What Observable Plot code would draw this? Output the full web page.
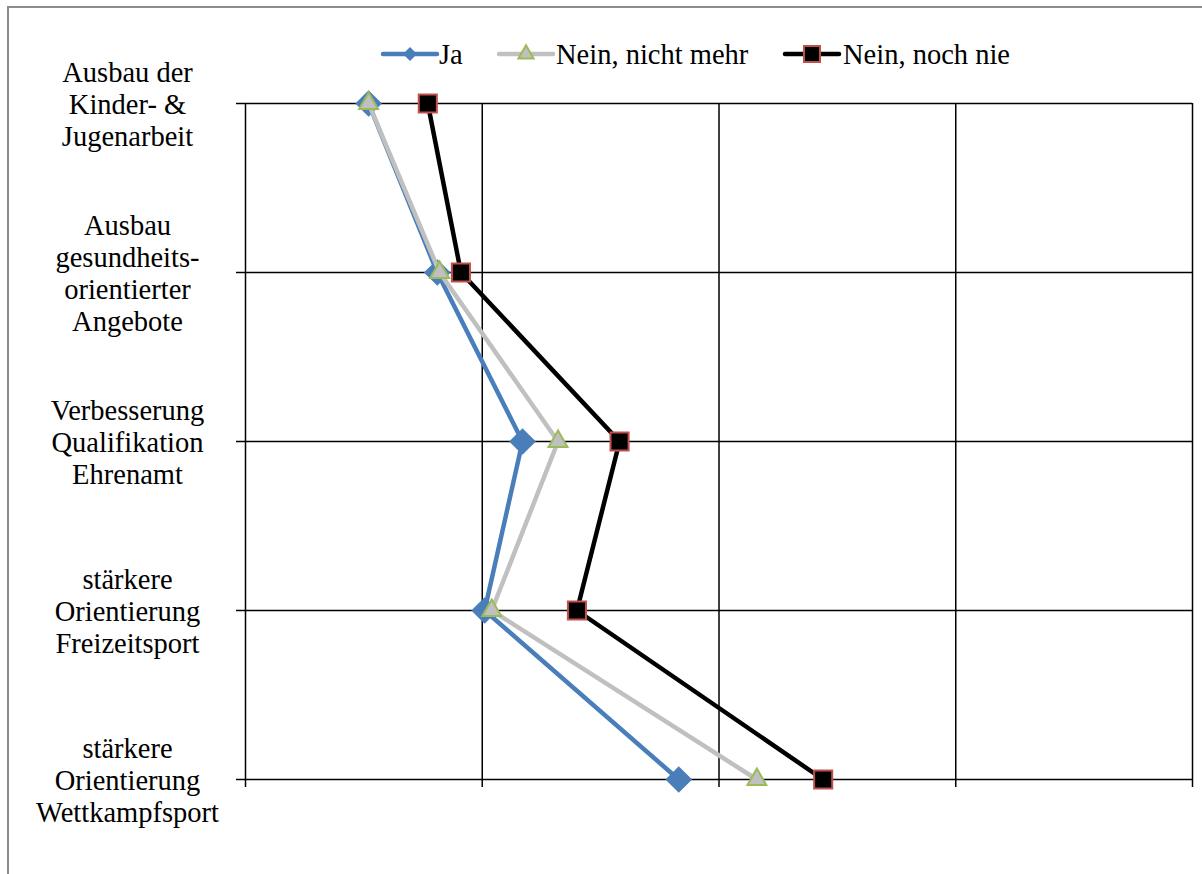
<!DOCTYPE html>
<html>
<head>
<meta charset="utf-8">
<script src="https://cdn.jsdelivr.net/npm/d3@7"></script>
<script src="https://cdn.jsdelivr.net/npm/@observablehq/plot@0.6"></script>
<style>
  html, body { margin: 0; padding: 0; background: #fff; }
  #wrap { position: relative; width: 1202px; height: 874px; overflow: hidden; }
  #border { position: absolute; left: 7px; top: 6px; width: 1300px; height: 1000px;
            border-top: 2px solid #8c8c8c; border-left: 2px solid #8c8c8c; }
  #chart { position: absolute; left: 0; top: 0; }
</style>
</head>
<body>
<div id="wrap"><div id="border"></div><div id="chart"></div></div>
<script>
const categories = [
  "Ausbau der\nKinder- &\nJugenarbeit",
  "Ausbau\ngesundheits-\norientierter\nAngebote",
  "Verbesserung\nQualifikation\nEhrenamt",
  "stärkere\nOrientierung\nFreizeitsport",
  "stärkere\nOrientierung\nWettkampfsport"
];
const seriesNames = ["Ja", "Nein, nicht mehr", "Nein, noch nie"];
const ja            = [1.52, 1.81, 2.17, 2.01, 2.83];
const neinNichtMehr = [1.52, 1.82, 2.32, 2.04, 3.16];
const neinNochNie   = [1.77, 1.91, 2.58, 2.40, 3.44];
const xTicks = [1, 2, 3, 4, 5];

const FONT = "'Liberation Serif', 'Times New Roman', serif";
const FS = 28.5;
const rows = (vals, s) => vals.map((v, i) => ({series: s, cat: categories[i], value: v}));
const dJa = rows(ja, seriesNames[0]);
const dNm = rows(neinNichtMehr, seriesNames[1]);
const dNn = rows(neinNochNie, seriesNames[2]);

const svg = Plot.plot({
  width: 1202,
  height: 874,
  marginLeft: 245,
  marginRight: 10,
  marginTop: 103,
  marginBottom: 95,
  style: {fontFamily: FONT, fontSize: FS + "px", background: "transparent", color: "#000"},
  x: {domain: [1, 5], axis: null},
  y: {type: "point", domain: categories, padding: 0, axis: null},
  marks: [
    Plot.ruleX(xTicks, {x: d => d, y1: () => categories[0], y2: () => categories[categories.length - 1], stroke: "#000", strokeWidth: 1.5}),
    Plot.ruleY(categories, {y: d => d, x1: () => 1, x2: () => 5, stroke: "#000", strokeWidth: 1.5}),
    Plot.axisX({ticks: xTicks, tickSize: 8, tickFormat: () => "", label: null, stroke: "#000", strokeWidth: 1.5}),
    Plot.axisY({ticks: categories, tickSize: 9, tickFormat: () => "", label: null, stroke: "#000", strokeWidth: 1.5}),
    Plot.text(categories, {y: d => d, text: d => d, frameAnchor: "left", dx: -118, textAnchor: "middle",
      lineAnchor: "middle", lineHeight: 1.12, fontSize: FS, fill: "#000"}),
    Plot.line(dJa, {x: "value", y: "cat", stroke: "#4a7ebb", strokeWidth: 4.5, strokeLinejoin: "round"}),
    Plot.dot(dJa, {x: "value", y: "cat", symbol: "diamond2", r: 12, fill: "#4a7ebb", stroke: "none"}),
    Plot.line(dNm, {x: "value", y: "cat", stroke: "#c0c0c0", strokeWidth: 4.5, strokeLinejoin: "round"}),
    Plot.dot(dNm, {x: "value", y: "cat", symbol: "triangle", r: 7, fill: "#c0c0c0", stroke: "#9bbb59", strokeWidth: 2}),
    Plot.line(dNn, {x: "value", y: "cat", stroke: "#000", strokeWidth: 4.5, strokeLinejoin: "round"}),
    Plot.dot(dNn, {x: "value", y: "cat", symbol: "square", r: 10.2, fill: "#000", stroke: "#c0504d", strokeWidth: 2})
  ]
});
document.getElementById("chart").appendChild(svg);

// Legend
const legendItems = [
  {name: seriesNames[0], x1: 383, x2: 437, mx: 410, stroke: "#4a7ebb", sym: d3.symbolDiamond2, size: 125, fill: "#4a7ebb", mstroke: "none", tx: 439},
  {name: seriesNames[1], x1: 499, x2: 553, mx: 526, stroke: "#c0c0c0", sym: d3.symbolTriangle, size: 100, fill: "#c0c0c0", mstroke: "#9bbb59", tx: 556},
  {name: seriesNames[2], x1: 785, x2: 839, mx: 812, stroke: "#000", sym: d3.symbolSquare, size: 256, fill: "#000", mstroke: "#c0504d", tx: 843}
];
const ly = 54;
const g = d3.select(svg).append("g").attr("class", "legend").attr("text-anchor", "start");
for (const it of legendItems) {
  g.append("line").attr("x1", it.x1).attr("x2", it.x2).attr("y1", ly).attr("y2", ly)
    .attr("stroke", it.stroke).attr("stroke-width", 4.5).attr("stroke-linecap", "round");
  g.append("path").attr("d", d3.symbol().type(it.sym).size(it.size)())
    .attr("transform", `translate(${it.mx},${ly})`)
    .attr("fill", it.fill).attr("stroke", it.mstroke).attr("stroke-width", 2);
  g.append("text").attr("x", it.tx).attr("y", ly).attr("dy", "0.35em")
    .attr("text-anchor", "start")
    .attr("font-family", FONT).attr("font-size", FS).attr("fill", "#000").text(it.name);
}
</script>
</body>
</html>
